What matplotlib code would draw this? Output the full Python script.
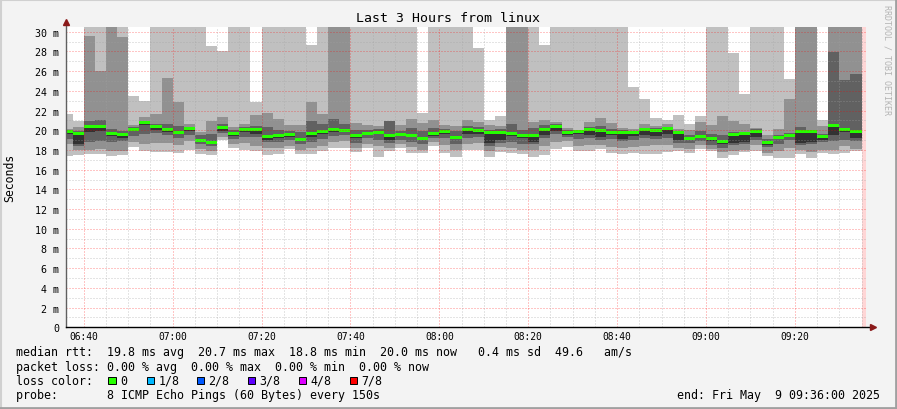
import matplotlib
matplotlib.use("Agg")
import matplotlib.pyplot as plt
from matplotlib.patches import Rectangle
import numpy as np

# 8 pings every 150 s, steps start at 06:35 (minutes after midnight)
t_start = 395
step_min = 2.5

# sorted pings per step (ms), p8 = slowest ... p1 = fastest, and the median
p8 = [21.6, 20.9, 32, 32, 32, 32, 23.5, 23.0, 32, 32, 32, 32, 32, 28.55, 28.0, 32, 32, 22.9,
      32, 32, 32, 32, 28.65, 32, 32, 32, 32, 32, 32, 32, 32, 32, 21.75, 32, 32, 32,
      32, 28.3, 21.0, 21.4, 32, 32, 32, 28.65, 32, 32, 32, 32, 32, 32, 32, 24.4, 23.15, 21.2,
      21.0, 21.5, 20.6, 21.4, 32, 32, 27.8, 23.65, 32, 32, 32, 25.25, 32, 32, 21.0, 32, 32, 32]
p7 = [20.1, 20.3, 29.6, 26.0, 31, 29.5, 20.5, 21.3, 21.6, 25.3, 22.85, 20.6, 19.8, 20.9, 21.3, 20.3, 20.6, 21.5,
      21.8, 21.1, 20.5, 20.5, 22.85, 21.7, 31, 31, 20.7, 20.5, 20.4, 20.95, 20.5, 21.1, 20.75, 21.0, 20.5, 20.4,
      21.0, 20.85, 20.5, 20.4, 31, 31, 20.85, 21.05, 20.85, 20.2, 20.0, 20.85, 21.2, 20.7, 20.25, 20.1, 20.6, 20.4,
      20.6, 20.15, 20.0, 20.85, 20.5, 21.4, 20.95, 20.65, 20.25, 19.5, 20.15, 23.15, 31, 31, 20.4, 31, 31, 31]
p6 = [19.95, 19.9, 20.9, 21.0, 20.1, 19.9, 20.3, 20.9, 20.6, 20.6, 20.4, 20.3, 19.5, 19.6, 20.6, 20.0, 20.3, 20.4,
      20.3, 20.0, 19.9, 19.8, 20.9, 20.6, 21.1, 20.6, 20.0, 20.0, 20.1, 20.9, 19.9, 20.2, 19.9, 20.2, 20.1, 19.9,
      20.4, 20.3, 20.0, 20.1, 20.6, 20.0, 20.2, 20.5, 20.6, 20.0, 19.98, 20.3, 20.4, 20.1, 20.0, 19.9, 20.2, 20.2,
      20.3, 19.9, 19.5, 19.9, 19.6, 19.5, 19.8, 19.8, 20.1, 19.1, 19.5, 19.7, 20.3, 20.0, 19.6, 27.9, 25.1, 25.7]
p5 = [19.9, 19.75, 20.5, 20.5, 19.8, 19.65, 20.2, 20.8, 20.5, 20.25, 19.95, 20.2, 19.1, 18.9, 20.4, 19.8, 20.15, 20.2,
      19.45, 19.5, 19.7, 19.2, 19.8, 19.95, 20.2, 20.1, 19.6, 19.8, 19.9, 19.6, 19.7, 19.6, 19.3, 19.8, 20.0, 19.4,
      20.2, 20.1, 19.9, 19.9, 19.8, 19.6, 19.6, 20.2, 20.5, 19.9, 19.95, 20.15, 20.1, 19.9, 19.9, 19.85, 20.1, 20.1,
      20.2, 19.85, 19.3, 19.5, 19.25, 19.0, 19.7, 19.75, 20.0, 18.9, 19.35, 19.6, 20.0, 19.95, 19.45, 20.6, 20.2, 20.0]
median = [19.85, 19.7, 20.35, 20.4, 19.7, 19.55, 20.1, 20.75, 20.4, 20.1, 19.8, 20.15, 19.0, 18.8, 20.3, 19.7, 20.05, 20.1,
          19.35, 19.45, 19.6, 19.1, 19.7, 19.85, 20.1, 20.0, 19.5, 19.7, 19.8, 19.5, 19.6, 19.5, 19.2, 19.7, 19.9, 19.3,
          20.1, 20.0, 19.8, 19.8, 19.7, 19.5, 19.5, 20.1, 20.4, 19.8, 19.9, 20.05, 20.0, 19.8, 19.8, 19.8, 20.05, 20.0,
          20.15, 19.8, 19.2, 19.4, 19.15, 18.9, 19.6, 19.7, 19.9, 18.8, 19.25, 19.5, 19.9, 19.85, 19.35, 20.5, 20.1, 19.9]
p4 = [19.6, 18.6, 19.8, 19.9, 19.4, 19.2, 19.9, 20.5, 20.0, 19.8, 19.6, 19.9, 18.8, 18.6, 19.9, 19.4, 19.8, 19.6,
      19.0, 19.2, 19.3, 18.9, 19.3, 19.6, 19.8, 19.8, 19.2, 19.5, 19.6, 19.0, 19.4, 19.3, 19.0, 19.4, 19.6, 19.1,
      19.6, 19.6, 18.7, 19.0, 19.4, 19.2, 18.8, 19.5, 19.9, 19.5, 19.6, 19.5, 19.3, 19.5, 19.1, 19.4, 19.5, 19.4,
      19.6, 19.0, 19.0, 19.2, 18.9, 18.6, 18.7, 18.8, 19.3, 18.5, 19.1, 19.4, 18.7, 18.8, 19.0, 19.5, 19.8, 19.2]
p3 = [19.1, 18.4, 18.8, 18.9, 18.8, 18.9, 19.4, 19.6, 19.7, 19.5, 19.2, 19.5, 18.6, 18.4, 19.7, 19.1, 19.3, 19.3,
      18.8, 18.8, 19.0, 18.6, 18.8, 19.1, 19.4, 19.5, 18.7, 19.2, 19.0, 18.7, 19.0, 18.8, 18.6, 19.2, 19.2, 18.6,
      19.2, 19.3, 18.4, 18.7, 18.8, 18.6, 18.6, 19.2, 19.6, 19.3, 19.1, 19.2, 19.0, 19.1, 18.9, 19.0, 19.2, 19.1,
      19.2, 18.7, 18.7, 18.9, 18.5, 18.2, 18.5, 18.6, 19.0, 18.3, 18.6, 19.0, 18.5, 18.6, 18.8, 18.9, 19.0, 18.9]
p2 = [18.6, 18.0, 18.0, 18.1, 17.9, 17.9, 18.8, 18.6, 18.7, 18.7, 18.5, 18.9, 18.1, 17.9, 19.3, 18.6, 18.7, 18.4,
      18.2, 18.2, 18.4, 18.0, 18.2, 18.4, 18.8, 18.9, 18.2, 18.6, 18.4, 18.2, 18.6, 18.3, 18.0, 18.8, 18.5, 18.0,
      18.6, 18.7, 17.9, 18.3, 18.2, 18.0, 18.0, 18.4, 18.8, 18.9, 18.4, 18.5, 18.5, 18.3, 18.2, 18.3, 18.4, 18.5,
      18.5, 18.2, 18.1, 18.5, 18.1, 17.8, 17.9, 18.0, 18.5, 17.7, 17.9, 18.2, 18.0, 17.8, 18.0, 18.0, 18.4, 18.1]
p1 = [17.4, 17.5, 17.6, 17.6, 17.4, 17.5, 18.3, 17.9, 17.8, 17.8, 17.7, 18.0, 17.6, 17.5, 19.0, 18.15, 17.95, 17.9,
      17.5, 17.6, 18.05, 17.55, 17.55, 17.9, 18.15, 18.15, 17.8, 18.2, 17.3, 17.9, 18.2, 17.7, 17.7, 18.4, 17.7, 17.3,
      17.95, 17.95, 17.3, 17.8, 17.7, 17.6, 17.3, 17.45, 18.05, 18.3, 17.9, 17.9, 18.05, 17.7, 17.6, 17.7, 17.6, 17.6,
      17.8, 17.9, 17.7, 18.05, 17.9, 17.2, 17.5, 17.8, 17.9, 17.4, 17.2, 17.2, 17.55, 17.2, 17.7, 17.55, 17.7, 17.9]

x_ticks = [400, 420, 440, 460, 480, 500, 520, 540, 560]
x_labels = ["06:40", "07:00", "07:20", "07:40", "08:00", "08:20", "08:40", "09:00", "09:20"]
y_ticks = list(range(0, 31, 2))
y_labels = ["0"] + [f"{v} m" for v in y_ticks[1:]]

loss_names = ["0", "1/8", "2/8", "3/8", "4/8", "7/8"]
loss_cols = ["#26ff00", "#00b8ff", "#0059ff", "#5e00ff", "#dd00ff", "#ff0000"]

W, H = 897, 410
plt.rcParams['font.family'] = ['DejaVu Sans Mono']
fig = plt.figure(figsize=(W / 100, H / 100), dpi=100, facecolor="#f3f3f3")
ax = fig.add_axes([66 / W, (H - 328.3) / H, 800 / W, 300.3 / H])
ax.set_facecolor("white")

edges = t_start + step_min * np.arange(len(median) + 1)
pings = [np.array(p) for p in (p1, p2, p3, p4, p5, p6, p7, p8)]
greys = ["#c0c0c0", "#919191", "#616161", "#323232"]
for i, c in enumerate(greys):
    ax.stairs(pings[7 - i], edges, baseline=pings[i], fill=True, color=c, lw=0, zorder=1)
med = np.array(median)
ax.stairs(med + 0.15, edges, baseline=med - 0.15, fill=True, color=loss_cols[0], lw=0, zorder=2)

ax.axvspan(575, 576, color="#ffd6d6", lw=0, zorder=1)

ax.set_xlim(396, 576)
ax.set_ylim(0, 30.48)

# grid (drawn on top like rrdtool)
dot = (0, (1, 2))
for v in range(1, 31):
    if v % 2:
        ax.axhline(v, color="#a0a0a0", alpha=0.55, lw=0.72, ls=dot, zorder=3)
    else:
        ax.axhline(v, color="#ff0000", alpha=0.45, lw=0.72, ls=dot, zorder=3)
for m in np.arange(400, 576, 5):
    if (m - 400) % 20 == 0:
        ax.axvline(m, color="#ff0000", alpha=0.45, lw=0.72, ls=dot, zorder=3)
    else:
        ax.axvline(m, color="#a0a0a0", alpha=0.55, lw=0.72, ls=dot, zorder=3)

ax.set_xticks(x_ticks)
ax.set_xticklabels(x_labels, fontsize=6.9)
ax.set_yticks(y_ticks)
ax.set_yticklabels(y_labels, fontsize=7.2)
ax.tick_params(axis="x", length=0, pad=3)
ax.tick_params(axis="y", length=0, pad=5)
for s in ax.spines.values():
    s.set_visible(False)

# axes with arrows
ax.plot([396, 396], [0, 30.9], color="#606060", lw=1, clip_on=False, zorder=4)
ax.plot([396, 577], [0, 0], color="black", lw=1, clip_on=False, zorder=4)
ax.plot([396], [31.0], marker="^", ms=4.5, color="#8b1a1a", clip_on=False, zorder=5)
ax.plot([577.6], [0], marker=">", ms=4.5, color="#8b1a1a", clip_on=False, zorder=5)

fig.text(10 / W, 1 - 178 / H, "Seconds", rotation=90, ha="center", va="center", fontsize=8.3)
fig.text(448 / W, 1 - 18 / H, "Last 3 Hours from linux", ha="center", va="center", fontsize=9.5)
fig.text(887 / W, 1 - 5 / H, "RRDTOOL / TOBI OETIKER", rotation=270, ha="center", va="top",
         fontsize=6, color="#b4b4b4")

fs = 8.35
x0 = 16 / W
fig.text(x0, 1 - 353 / H,
         "median rtt:  19.8 ms avg  20.7 ms max  18.8 ms min  20.0 ms now   0.4 ms sd  49.6   am/s",
         va="center", fontsize=fs)
fig.text(x0, 1 - 367.5 / H, "packet loss: 0.00 % avg  0.00 % max  0.00 % min  0.00 % now",
         va="center", fontsize=fs)
fig.text(x0, 1 - 381.5 / H, "loss color:", va="center", fontsize=fs)
sq_x = [108.3, 146.5, 196.5, 247.5, 298.5, 349.5]
for sx, name, col in zip(sq_x, loss_names, loss_cols):
    fig.add_artist(Rectangle((sx / W, 1 - 385.2 / H), 7.5 / W, 7.5 / H, transform=fig.transFigure,
                             facecolor=col, edgecolor="black", lw=0.7))
    fig.text((sx + 12) / W, 1 - 381.5 / H, name, va="center", fontsize=fs)
fig.text(x0, 1 - 396 / H, "probe:       8 ICMP Echo Pings (60 Bytes) every 150s", va="center", fontsize=fs)
fig.text(880 / W, 1 - 396 / H, "end: Fri May  9 09:36:00 2025", ha="right", va="center", fontsize=fs)

# frame
fig.add_artist(plt.Line2D([0, 1], [1 - 1 / H, 1 - 1 / H], transform=fig.transFigure, color="#d0d0d0", lw=1.5))
fig.add_artist(plt.Line2D([1 / W, 1 / W], [0, 1], transform=fig.transFigure, color="#d0d0d0", lw=1.5))
fig.add_artist(plt.Line2D([0, 1], [1.5 / H, 1.5 / H], transform=fig.transFigure, color="#a0a0a0", lw=2))
fig.add_artist(plt.Line2D([1 - 1.5 / W, 1 - 1.5 / W], [0, 1], transform=fig.transFigure, color="#a0a0a0", lw=2))

fig.savefig("out.png", dpi=100, facecolor=fig.get_facecolor())
